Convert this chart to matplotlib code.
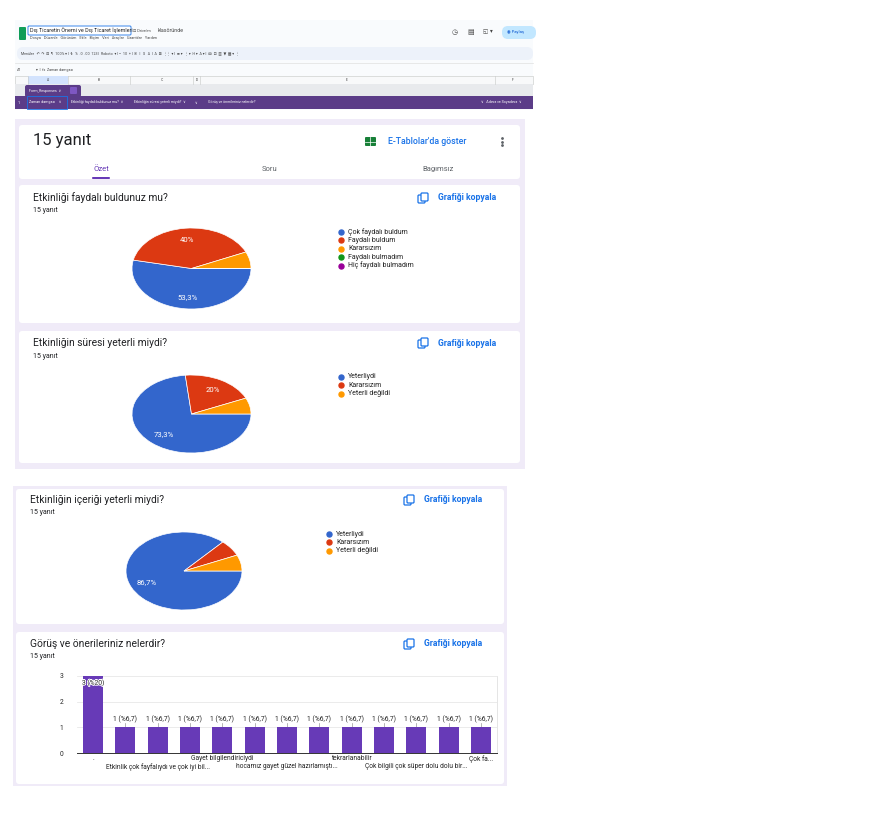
import numpy as np
import matplotlib.pyplot as plt
from matplotlib.patches import Rectangle, FancyBboxPatch
import matplotlib.patheffects as pe

plt.rcParams['font.family'] = ['Roboto', 'DejaVu Sans']

W, H = 895, 816

# veriler
q1_labels = ['Çok faydalı buldum', 'Faydalı buldum', 'Kararsızım', 'Faydalı bulmadım', 'Hiç faydalı bulmadım']
q1_counts = [8, 6, 1, 0, 0]
q2_labels = ['Yeterliydi', 'Kararsızım', 'Yeterli değildi']
q2_counts = [11, 3, 1]
q3_labels = ['Yeterliydi', 'Kararsızım', 'Yeterli değildi']
q3_counts = [13, 1, 1]
q4_labels = ['.', '', 'Etkinlik çok fayfalıydı ve çok iyi bil...', '', 'Gayet bilgilendiriciydi', '',
             'hocamız gayet güzel hazırlamıştı...', '', 'tekrarlanabilir', '',
             'Çok bilgili çok süper dolu dolu bir...', '', 'Çok fa...']
q4_counts = [3, 1, 1, 1, 1, 1, 1, 1, 1, 1, 1, 1, 1]
total = 15

pie_colors = ['#3366cc', '#dc3912', '#ff9900', '#109618', '#990099']
purple = '#673ab7'
blue = '#1a73e8'

fig = plt.figure(figsize=(W / 100, H / 100), dpi=100)
bg = fig.add_axes([0, 0, 1, 1])
bg.set_xlim(0, W)
bg.set_ylim(H, 0)
bg.axis('off')


def px_axes(x0, y0, x1, y1):
    return fig.add_axes([x0 / W, 1 - y1 / H, (x1 - x0) / W, (y1 - y0) / H])


def rect(x, y, w, h, fc, ec='none', lw=0, r=0, z=1):
    if r > 0:
        p = FancyBboxPatch((x, y), w, h, boxstyle=f'round,pad=0,rounding_size={r}',
                           fc=fc, ec=ec, lw=lw, zorder=z)
    else:
        p = Rectangle((x, y), w, h, fc=fc, ec=ec, lw=lw, zorder=z)
    bg.add_patch(p)


def txt(x, y, s, size=4, color='#202124', ha='left', weight='normal', z=5):
    bg.text(x, y, s, fontsize=size, color=color, ha=ha, va='center', weight=weight, zorder=z)


# --- E-Tablolar ekranı ---
rect(15, 20, 518, 90, '#f9fbfd')
rect(19, 27, 7, 13, '#0f9d58', r=1)
rect(28, 26, 103, 9, 'white', ec='#1a73e8', lw=0.6, r=1)
txt(30, 30.5, 'Dış Ticaretin Önemi ve Dış Ticaret İşlemleri', 3.9)
txt(133, 30.5, '⊡ Drive\'ım', 2.8, '#444')
txt(158, 30.5, 'klasöründe', 3.8, '#444')
txt(30, 38.5, 'Dosya   Düzenle   Görünüm   Ekle   Biçim   Veri   Araçlar   Uzantılar   Yardım', 2.8, '#444')
bg.text(455, 32, '◷', fontsize=5, color='#444', ha='center', va='center', family='DejaVu Sans')
bg.text(471, 32, '▤', fontsize=5, color='#444', ha='center', va='center', family='DejaVu Sans')
bg.text(488, 32, '◱ ▾', fontsize=4, color='#444', ha='center', va='center', family='DejaVu Sans')
rect(502, 26, 34, 13, '#c2e7ff', r=6)
txt(507, 32.5, '◉ Paylaş', 3, '#0b57d0')
rect(17, 47, 516, 13, '#edf2fa', r=6)
txt(21, 53.5, 'Menüler   ↶  ↷  ⊟  ¶   100% ▾ |  ₺   %  .0  .00  123 |  Roboto  ▾ | −  10  + |  B   I   S   A  |  A  ⊞  ⋮⋮ ▾ |  ≡ ▾  ⋮ ▾  H ▾  A ▾ |  ∞  ⊡  ▥  ▼  ▦ ▾  ⋮',
    2.6, '#444')
txt(17, 70, 'A1', 2.8, '#444')
txt(36, 70, '▾  |  fx  Zaman damgası', 2.6, '#444')
bg.plot([15, 533], [63, 63], color='#e0e0e0', lw=0.5, zorder=2)
rect(15, 76, 518, 8, '#f8f9fa', ec='#c4c7c5', lw=0.4)
rect(28, 76, 40, 8, '#d3e3fd', z=2)
for xv in [28, 68, 130, 193, 200, 495]:
    bg.plot([xv, xv], [76, 84], color='#c4c7c5', lw=0.4, zorder=3)
for xv, s in zip([48, 99, 162, 197, 347, 513], ['A', 'B', 'C', 'D', 'E', 'F']):
    txt(xv, 80, s, 2.4, '#444', ha='center')
rect(15, 84, 518, 12, '#e8eaed')
rect(25, 85, 56, 12, '#5b3c88', r=2)
txt(29, 91, 'Form_Responses  ∨', 2.6, 'white')
rect(70, 87, 7, 7, '#7e57c2', r=1)
rect(15, 96, 518, 13, '#5b3c88')
rect(27, 96, 40, 13, 'none', ec='#1a73e8', lw=0.6, z=3)
txt(18, 102.5, '1', 2.6, 'white')
txt(29, 102.5, 'Zaman damgası    ∨', 2.6, 'white')
txt(71, 102.5, 'Etkinliği faydalı buldunuz mu?  ∨', 2.6, 'white')
txt(134, 102.5, 'Etkinliğin süresi yeterli miydi?  ∨', 2.6, 'white')
txt(195, 102.5, '∨', 2.6, 'white')
txt(208, 102.5, 'Görüş ve önerileriniz nelerdir?', 2.6, 'white')
txt(481, 102.5, '∨   Adınız ve Soyadınız  ∨', 2.6, 'white')

# --- Formlar yanıt paneli ---
lav = '#f0ebf8'
rect(15, 119, 510, 350, lav)
rect(13, 486, 494, 300, lav)

rect(19, 125, 501, 54, 'white', r=3)
txt(33, 141, '15 yanıt', 12, '#202124')
rect(365, 137, 11, 9, '#188038', r=1, z=2)
bg.plot([365, 376], [141.5, 141.5], color='white', lw=0.5, zorder=3)
bg.plot([370.5, 370.5], [137, 146], color='white', lw=0.5, zorder=3)
txt(388, 141.5, 'E-Tablolar\'da göster', 6.3, blue, weight='medium')
for yy in [138, 141.5, 145]:
    bg.plot(502, yy, 'o', ms=1, color='#5f6368', zorder=3)
txt(101, 169, 'Özet', 5.5, purple, ha='center')
txt(270, 169, 'Soru', 5.5, '#5f6368', ha='center')
txt(438, 169, 'Bağımsız', 5.5, '#5f6368', ha='center')
rect(92, 177, 18, 2, purple, r=1)

cards = [
    (19, 185, 501, 138, 33, 198, 211, 418, 'Etkinliği faydalı buldunuz mu?'),
    (19, 331, 501, 132, 33, 343, 356, 418, 'Etkinliğin süresi yeterli miydi?'),
    (16, 489, 488, 135, 30, 500, 513, 404, 'Etkinliğin içeriği yeterli miydi?'),
    (16, 632, 488, 152, 30, 644, 657, 404, 'Görüş ve önerileriniz nelerdir?'),
]
for cx, cy, cw, ch, tx, ty, sy, ix, title in cards:
    rect(cx, cy, cw, ch, 'white', r=3)
    txt(tx, ty, title, 7.4, '#202124')
    txt(tx, sy, f'{total} yanıt', 5, '#202124')
    rect(ix + 3, ty - 5, 7, 8, 'white', ec=blue, lw=0.9, r=1, z=3)
    rect(ix, ty - 3, 7, 8, 'white', ec=blue, lw=0.9, r=1, z=2)
    txt(ix + 20, ty, 'Grafiği kopyala', 6.2, blue, weight='bold')


def draw_pie(box, counts, labels, legend_x, legend_y):
    ax = px_axes(*box)
    wedges, _ = ax.pie(counts, colors=pie_colors[:len(counts)], startangle=0,
                       counterclock=False, radius=1,
                       wedgeprops=dict(edgecolor='white', linewidth=0.5))
    ax.set_aspect('auto')
    ax.set_xlim(-1, 1)
    ax.set_ylim(-1, 1)
    n = sum(counts)
    for w, c in zip(wedges, counts):
        if c / n < 0.1:
            continue
        mid = np.deg2rad((w.theta1 + w.theta2) / 2)
        s = f'{100 * c / n:.1f}'
        if s.endswith('.0'):
            s = s[:-2]
        s = s.replace('.', ',') + '%'
        ax.text(0.7 * np.cos(mid), 0.7 * np.sin(mid), s, fontsize=5.6, color='white',
                ha='center', va='center')
    for i, lab in enumerate(labels):
        y = legend_y + i * 8.4
        bg.plot(legend_x, y, 'o', ms=3.6, color=pie_colors[i], zorder=4)
        txt(legend_x + 7, y, lab, 5, '#222')


draw_pie((132, 228, 251, 309), q1_counts, q1_labels, 341, 232)
draw_pie((132, 375, 251, 453), q2_counts, q2_labels, 341, 377)
draw_pie((126, 532, 242, 610), q3_counts, q3_labels, 329, 534)

# --- çubuk grafik ---
axb = px_axes(77, 676, 497, 753)
x = np.arange(len(q4_counts))
axb.bar(x, q4_counts, width=0.62, color=purple, zorder=3)
axb.set_xlim(-0.5, len(x) - 0.5)
axb.set_ylim(0, 3)
axb.set_yticks([0, 1, 2, 3])
axb.grid(axis='y', color='#e8e8e8', lw=0.6, zorder=0)
for sp in ['top', 'left']:
    axb.spines[sp].set_visible(False)
axb.spines['right'].set_color('#e0e0e0')
axb.spines['right'].set_linewidth(0.6)
axb.spines['bottom'].set_color('#333333')
axb.spines['bottom'].set_linewidth(0.7)
axb.tick_params(axis='both', length=0, labelsize=4.8, labelcolor='#222')
axb.tick_params(axis='y', pad=10)
axb.set_xticks(x)
axb.set_xticklabels(q4_labels)
# etiketler iki sıra halinde
for i, tick in enumerate(axb.xaxis.get_major_ticks()):
    tick.set_pad(7.5 if i % 4 == 2 else 1.8)
for xi, c in zip(x, q4_counts):
    pct = f'{100 * c / total:.1f}'
    if pct.endswith('.0'):
        pct = pct[:-2]
    s = f'{c} (%{pct.replace(".", ",")})'
    if c == max(q4_counts):
        axb.text(xi, c - 0.27, s, fontsize=4.8, color='#222', ha='center', va='center', zorder=5,
                 path_effects=[pe.withStroke(linewidth=1.2, foreground='white')])
    else:
        axb.plot([xi, xi], [c, c + 0.17], color='#999', lw=0.5, zorder=2)
        axb.text(xi, c + 0.3, s, fontsize=4.9, color='#222', ha='center', va='center', zorder=5)

fig.savefig('out.png', dpi=100)
